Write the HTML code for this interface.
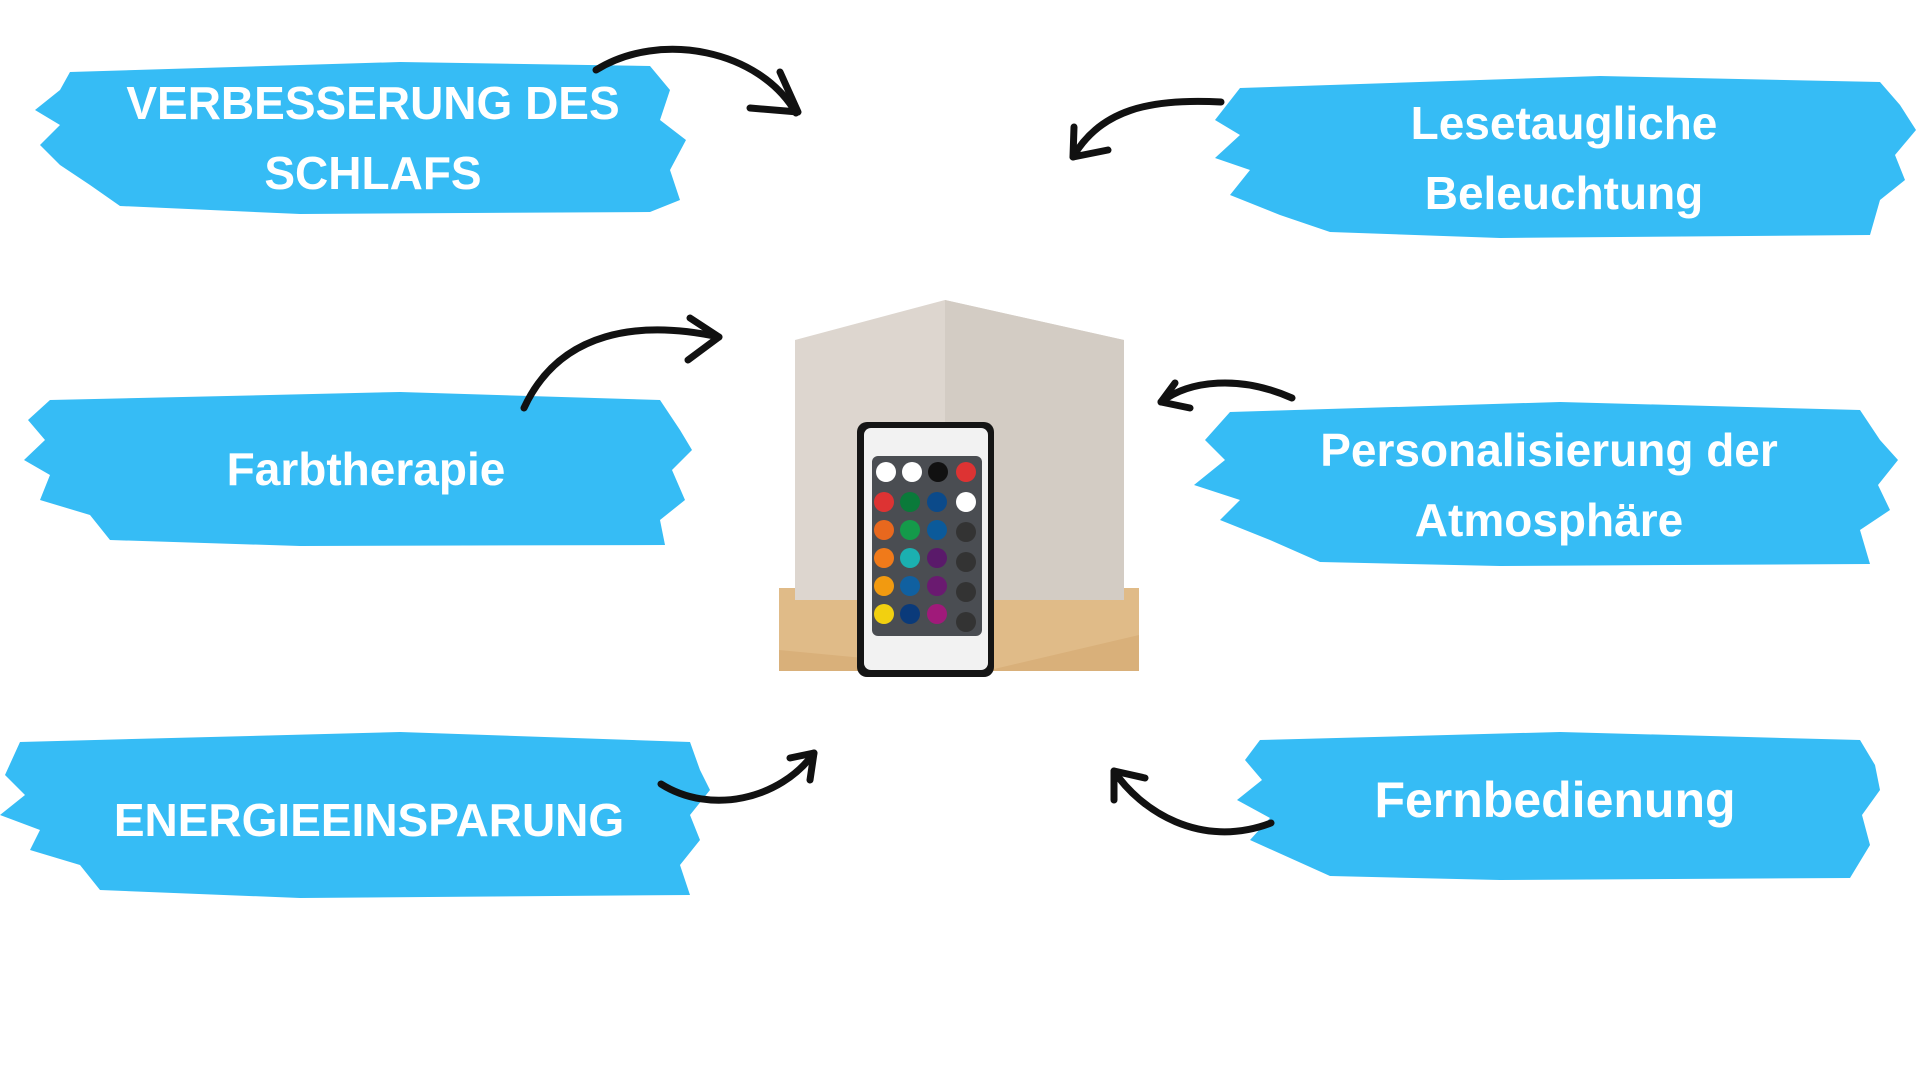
<!DOCTYPE html>
<html><head><meta charset="utf-8"><style>
html,body{margin:0;padding:0;background:#fff;width:1920px;height:1080px;overflow:hidden}
.t{position:absolute;color:#fff;font-family:"Liberation Sans",sans-serif;font-weight:bold;font-size:46px;text-align:center;line-height:70px;transform:translateX(-50%);white-space:nowrap}
svg{position:absolute;left:0;top:0}
</style></head><body>
<svg width="1920" height="1080" viewBox="0 0 1920 1080">
<defs>
<g id="brush">
<path d="M0.04,0.12 L0.3,0.05 L0.7,0.03 L0.9,0.08 L0.97,0.18 L0.93,0.3 L1,0.45 L0.95,0.6 L0.99,0.75 L0.9,0.88 L0.93,0.98 L0.5,0.99 L0.15,0.96 L0.1,0.85 L0.05,0.75 L0.08,0.62 L0,0.5 L0.06,0.38 L0.02,0.25 Z" fill="#36BCF5"/>
</g>
</defs>
<g fill="#36BCF5">
<path d="M70,72 L400,62 L650,66 L670,90 L660,120 L686,140 L670,170 L680,200 L650,212 L300,214 L120,206 L90,185 L60,165 L40,145 L60,125 L35,110 L60,90 Z"/>
<path d="M1240,88 L1600,76 L1880,82 L1900,105 L1916,130 L1895,155 L1905,180 L1880,200 L1870,235 L1500,238 L1330,232 L1280,215 L1230,195 L1250,170 L1215,158 L1240,135 L1215,120 Z"/>
<path d="M50,400 L400,392 L660,400 L680,430 L692,450 L672,470 L685,500 L660,520 L665,545 L300,546 L110,540 L90,515 L40,500 L50,475 L24,460 L45,440 L28,420 Z"/>
<path d="M1230,412 L1560,402 L1860,410 L1880,440 L1898,460 L1878,485 L1890,510 L1860,530 L1870,564 L1500,566 L1320,562 L1270,540 L1220,520 L1240,500 L1194,485 L1225,460 L1205,440 Z"/>
<path d="M20,742 L400,732 L690,742 L700,770 L710,790 L690,815 L700,840 L680,865 L690,895 L300,898 L100,890 L80,865 L30,850 L40,830 L0,815 L25,795 L5,775 Z"/>
<path d="M1260,740 L1560,732 L1860,740 L1875,765 L1880,790 L1862,815 L1870,845 L1850,878 L1500,880 L1330,876 L1290,858 L1250,840 L1270,818 L1237,800 L1262,780 L1245,760 Z"/>
</g>
<!-- lamp -->
<rect x="779" y="588" width="360" height="83" fill="#d9b07a"/>
<polygon points="779,588 1139,588 1139,635 990,670 779,650" fill="#e0bb88"/>
<polygon points="795,340 945,300 1124,340 1124,600 795,600" fill="#ddd6cf"/>
<polygon points="945,300 1124,340 1124,600 945,600" fill="#d3ccc4"/>
<rect x="857" y="422" width="137" height="255" rx="10" fill="#151515"/>
<rect x="864" y="428" width="124" height="242" rx="7" fill="#f2f2f2"/>
<rect x="872" y="456" width="110" height="180" rx="6" fill="#4a4d52"/>
<g>
<circle cx="886" cy="472" r="10" fill="#fff"/><circle cx="912" cy="472" r="10" fill="#fff"/><circle cx="938" cy="472" r="10" fill="#111"/><circle cx="966" cy="472" r="10" fill="#d33"/>
<circle cx="884" cy="502" r="10" fill="#d33"/><circle cx="910" cy="502" r="10" fill="#0a7a3a"/><circle cx="937" cy="502" r="10" fill="#0b4a8a"/><circle cx="966" cy="502" r="10" fill="#fff"/>
<circle cx="884" cy="530" r="10" fill="#e8681e"/><circle cx="910" cy="530" r="10" fill="#149a4a"/><circle cx="937" cy="530" r="10" fill="#0b5a9a"/><circle cx="966" cy="532" r="10" fill="#333"/>
<circle cx="884" cy="558" r="10" fill="#f07a1a"/><circle cx="910" cy="558" r="10" fill="#1bb0b0"/><circle cx="937" cy="558" r="10" fill="#5a1a6a"/><circle cx="966" cy="562" r="10" fill="#333"/>
<circle cx="884" cy="586" r="10" fill="#f29a10"/><circle cx="910" cy="586" r="10" fill="#1060a0"/><circle cx="937" cy="586" r="10" fill="#6a1a70"/><circle cx="966" cy="592" r="10" fill="#333"/>
<circle cx="884" cy="614" r="10" fill="#f2d010"/><circle cx="910" cy="614" r="10" fill="#0a3a7a"/><circle cx="937" cy="614" r="10" fill="#a01a7a"/><circle cx="966" cy="622" r="10" fill="#333"/>
</g>
<!-- arrows -->
<g fill="none" stroke="#111" stroke-width="7" stroke-linecap="round" stroke-linejoin="round">
<path d="M596,70 C660,30 760,50 796,113"/><path d="M780,72 L798,112 L750,108"/>
<path d="M1221,102 C1150,98 1100,110 1073,157"/><path d="M1074,127 L1073,157 L1108,150"/>
<path d="M524,408 C560,330 640,320 719,337"/><path d="M690,318 L719,337 L688,360"/>
<path d="M1292,398 C1240,375 1190,380 1161,402"/><path d="M1175,383 L1161,402 L1190,408"/>
<path d="M661,784 C710,815 780,800 814,753"/><path d="M790,758 L814,753 L810,780"/>
<path d="M1271,823 C1200,850 1140,810 1114,771"/><path d="M1114,800 L1114,771 L1145,778"/>
</g>
</svg>
<div class="t" style="left:373px;top:68px">VERBESSERUNG DES<br>SCHLAFS</div>
<div class="t" style="left:1564px;top:88px">Lesetaugliche<br>Beleuchtung</div>
<div class="t" style="left:366px;top:434px">Farbtherapie</div>
<div class="t" style="left:1549px;top:415px">Personalisierung der<br>Atmosphäre</div>
<div class="t" style="left:369px;top:785px">ENERGIEEINSPARUNG</div>
<div class="t" style="left:1555px;top:765px;font-size:50px">Fernbedienung</div>
</body></html>
